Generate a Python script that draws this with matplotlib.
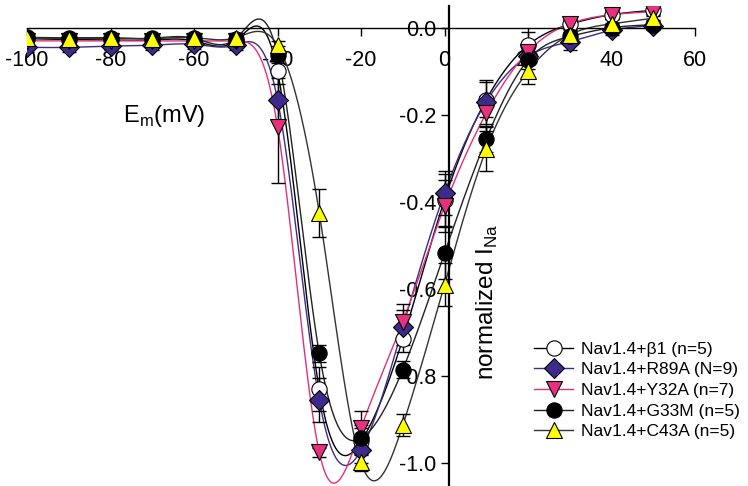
import numpy as np
import matplotlib.pyplot as plt
from matplotlib.lines import Line2D

plt.rcParams['font.family'] = ['Liberation Sans', 'DejaVu Sans']

# membrane potential steps (mV)
volt = [-100, -90, -80, -70, -60, -50, -40, -30, -20, -10, 0, 10, 20, 30, 40, 50]

# normalized peak I_Na for each construct
beta1 = [-0.025, -0.027, -0.028, -0.028, -0.030, -0.030, -0.100, -0.830, -0.950, -0.715, -0.395, -0.165, -0.040, 0.008, 0.030, 0.040]
r89a = [-0.045, -0.045, -0.042, -0.040, -0.038, -0.040, -0.165, -0.855, -0.970, -0.688, -0.380, -0.170, -0.065, -0.032, -0.006, 0.005]
y32a = [-0.030, -0.030, -0.030, -0.030, -0.030, -0.030, -0.227, -0.975, -0.920, -0.675, -0.410, -0.196, -0.055, 0.009, 0.030, 0.037]
g33m = [-0.022, -0.023, -0.023, -0.024, -0.024, -0.025, -0.062, -0.748, -0.943, -0.785, -0.518, -0.256, -0.074, -0.020, 0.000, 0.007]
c43a = [-0.023, -0.025, -0.024, -0.025, -0.023, -0.023, -0.040, -0.425, -0.998, -0.913, -0.590, -0.279, -0.100, -0.016, 0.009, 0.022]

# s.e.m.
beta1_err = [0.01, 0.01, 0.01, 0.01, 0.01, 0.01, 0.03, 0.05, 0.03, 0.03, 0.06, 0.04, 0.03, 0.01, 0.01, 0.01]
r89a_err = [0.01, 0.01, 0.01, 0.01, 0.01, 0.01, 0.05, 0.05, 0.03, 0.04, 0.05, 0.05, 0.02, 0.02, 0.01, 0.01]
y32a_err = [0.01, 0.01, 0.01, 0.01, 0.01, 0.01, 0.13, 0.01, 0.04, 0.04, 0.06, 0.04, 0.02, 0.01, 0.01, 0.01]
g33m_err = [0.01, 0.01, 0.01, 0.01, 0.01, 0.01, 0.02, 0.02, 0.03, 0.02, 0.06, 0.03, 0.02, 0.01, 0.01, 0.01]
c43a_err = [0.01, 0.01, 0.01, 0.01, 0.01, 0.01, 0.01, 0.055, 0.02, 0.025, 0.05, 0.05, 0.03, 0.01, 0.01, 0.01]

labels = ['Nav1.4+\u03b21 (n=5)', 'Nav1.4+R89A (N=9)', 'Nav1.4+Y32A (n=7)',
          'Nav1.4+G33M (n=5)', 'Nav1.4+C43A (n=5)']


def spline_curve(x, y, num=800):
    # natural cubic spline through the points (like SigmaPlot's spline line)
    x = np.asarray(x, float)
    y = np.asarray(y, float)
    n = len(x)
    h = np.diff(x)
    A = np.zeros((n, n))
    b = np.zeros(n)
    A[0, 0] = A[-1, -1] = 1
    for i in range(1, n - 1):
        A[i, i - 1] = h[i - 1]
        A[i, i] = 2 * (h[i - 1] + h[i])
        A[i, i + 1] = h[i]
        b[i] = 6 * ((y[i + 1] - y[i]) / h[i] - (y[i] - y[i - 1]) / h[i - 1])
    M = np.linalg.solve(A, b)
    xs = np.linspace(x[0], x[-1], num)
    k = np.clip(np.searchsorted(x, xs) - 1, 0, n - 2)
    t0 = x[k + 1] - xs
    t1 = xs - x[k]
    hk = h[k]
    ys = (M[k] * t0 ** 3 + M[k + 1] * t1 ** 3) / (6 * hk) \
        + (y[k] / hk - M[k] * hk / 6) * t0 + (y[k + 1] / hk - M[k + 1] * hk / 6) * t1
    return xs, ys


fig = plt.figure(figsize=(7.48, 4.86), dpi=100)
ax = fig.add_axes([27 / 748, 1 / 486, 668 / 748, 479 / 486])

series = [
    (beta1, beta1_err, 'o', 'white', 'black', 11),
    (r89a, r89a_err, 'D', '#3d2a8c', '#3d2a8c', 10),
    (y32a, y32a_err, 'v', '#e8307f', '#e0307a', 11),
    (g33m, g33m_err, 'o', 'black', '#222222', 11),
    (c43a, c43a_err, '^', '#ffff00', '#333333', 11),
]

handles = []
for (vals, err, mk, fc, lc, ms), lab in zip(series, labels):
    xs, ys = spline_curve(volt, vals)
    ax.plot(xs, ys, color=lc, lw=1.0, zorder=2)
    ax.errorbar(volt, vals, yerr=err, fmt='none', ecolor='black', elinewidth=1.0,
                capsize=5, capthick=1.0, zorder=3)
    ax.plot(volt, vals, ls='none', marker=mk, ms=ms, mfc=fc, mec='black', mew=0.8, zorder=4)
    handles.append(Line2D([], [], color=lc, lw=1.0, marker=mk, ms=ms, mfc=fc,
                          mec='black', mew=0.8))

ax.set_xlim(-100, 60)
ax.set_ylim(-1.05, 0.05)

ax.spines['right'].set_color('none')
ax.spines['top'].set_color('none')
ax.spines['bottom'].set_position(('data', 0))
ax.spines['left'].set_position(('data', 1))
ax.spines['left'].set_linewidth(1.6)
ax.spines['bottom'].set_linewidth(1.0)
ax.xaxis.set_ticks_position('bottom')
ax.yaxis.set_ticks_position('left')

ax.set_xticks([-100, -80, -60, -40, -20, 0, 20, 40, 60])
ax.set_xticklabels(['-100', '-80', '-60', '-40', '-20', '0', '20', '40', '60'])
ax.set_yticks([0.0, -0.2, -0.4, -0.6, -0.8, -1.0])
ax.set_yticklabels(['0.0', '-0.2', '-0.4', '-0.6', '-0.8', '-1.0'])
ax.tick_params(axis='both', labelsize=15.5, direction='out', length=6, width=1.0, color='black')
ax.tick_params(axis='x', pad=10)
ax.tick_params(axis='y', pad=3)

fig.text(164 / 748, 1 - 116 / 486, r'E$_\mathregular{m}$(mV)', fontsize=17, ha='center', va='center')
fig.text(487 / 748, 1 - 302 / 486, r'normalized I$_\mathregular{Na}$', fontsize=17.5,
         rotation=90, ha='center', va='center')

fig.legend(handles, labels, loc='upper left', bbox_to_anchor=(531 / 748, 1 - 338 / 486),
           frameon=False, fontsize=12.5, handlelength=2.2, handletextpad=0.5,
           labelspacing=0.32, borderpad=0.2, borderaxespad=0)

plt.savefig('out.png', dpi=100)
